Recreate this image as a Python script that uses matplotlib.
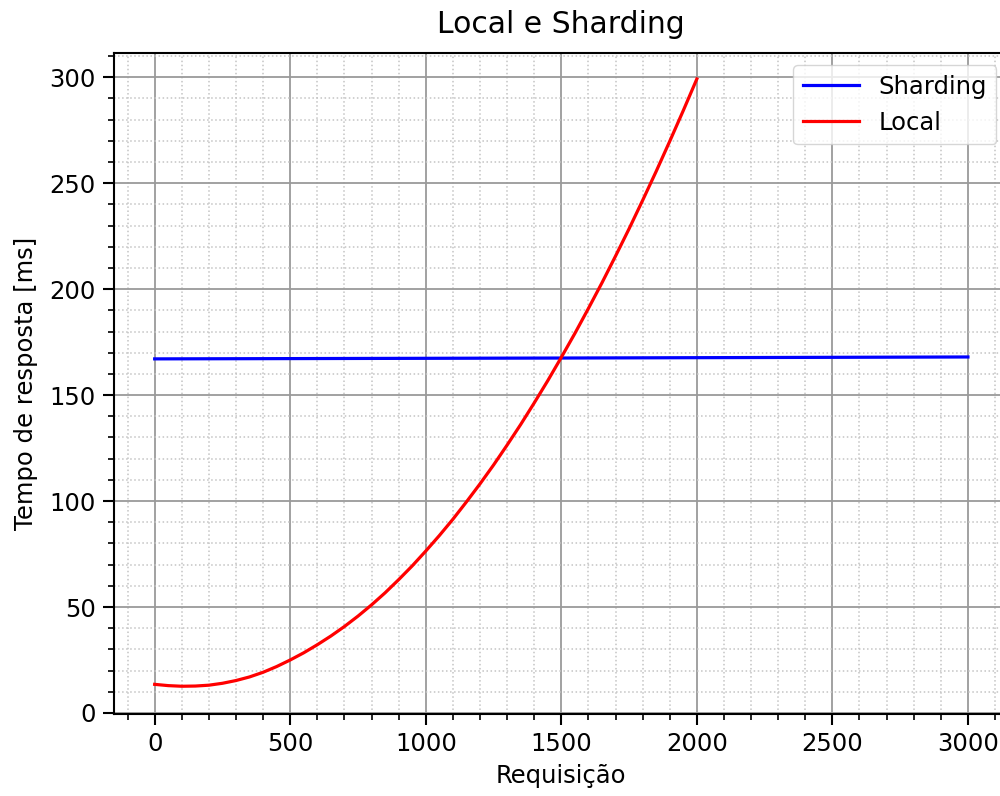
import matplotlib
matplotlib.use("Agg")
import matplotlib.pyplot as plt

# Data
local_x = [0, 50, 100, 150, 200, 250, 300, 350, 400, 450, 500,
           550, 600, 650, 700, 750, 800, 850, 900, 950, 1000,
           1050, 1100, 1150, 1200, 1250, 1300, 1350, 1400, 1450, 1500,
           1550, 1600, 1650, 1700, 1750, 1800, 1850, 1900, 1950, 2000]
local_y = [13.5, 12.9, 12.6, 12.7, 13.1, 14.0, 15.3, 17.0, 19.2, 21.9, 25.0,
           28.4, 32.2, 36.3, 40.8, 45.7, 51.0, 56.7, 62.9, 69.4, 76.4,
           83.7, 91.4, 99.6, 108.1, 117.0, 126.4, 136.1, 146.3, 156.8, 167.8,
           179.1, 190.9, 203.0, 215.6, 228.5, 241.9, 255.6, 269.8, 284.3, 299.2]

sharding_x = [0, 1500, 3000]
sharding_y = [167.1, 167.5, 168.0]

title = "Local e Sharding"
xlabel = "Requisição"
ylabel = "Tempo de resposta [ms]"

plt.rcParams['font.family'] = ['DejaVu Sans']
fs = 17.5

fig = plt.figure(figsize=(10, 7.96), dpi=100)
ax = fig.add_axes([0.114, 0.103, 0.8946, 0.8308])

ax.plot(sharding_x, sharding_y, color='blue', linewidth=2.3, label='Sharding',
        solid_joinstyle='round')
ax.plot(local_x, local_y, color='red', linewidth=2.3, label='Local',
        solid_joinstyle='round')

ax.set_xlim(-150, 3150)
ax.set_ylim(-0.5, 311.6)

ax.minorticks_on()
ax.grid(which='major', color='#9a9a9a', linestyle='-', linewidth=1.3)
ax.grid(which='minor', color='#c4c4c4', linestyle=':', linewidth=1.1)
ax.set_axisbelow(True)

ax.tick_params(which='major', length=8, width=1.5, labelsize=fs, pad=5)
ax.tick_params(which='minor', length=4.5, width=1.2)
for s in ax.spines.values():
    s.set_linewidth(1.5)

ax.set_title(title, fontsize=21.5, pad=14)
ax.set_xlabel(xlabel, fontsize=fs, labelpad=6)
ax.set_ylabel(ylabel, fontsize=fs, labelpad=8)

ax.legend(loc='upper right', fontsize=fs, borderaxespad=0.5, handlelength=2.3)

fig.savefig("out.png", dpi=100)
